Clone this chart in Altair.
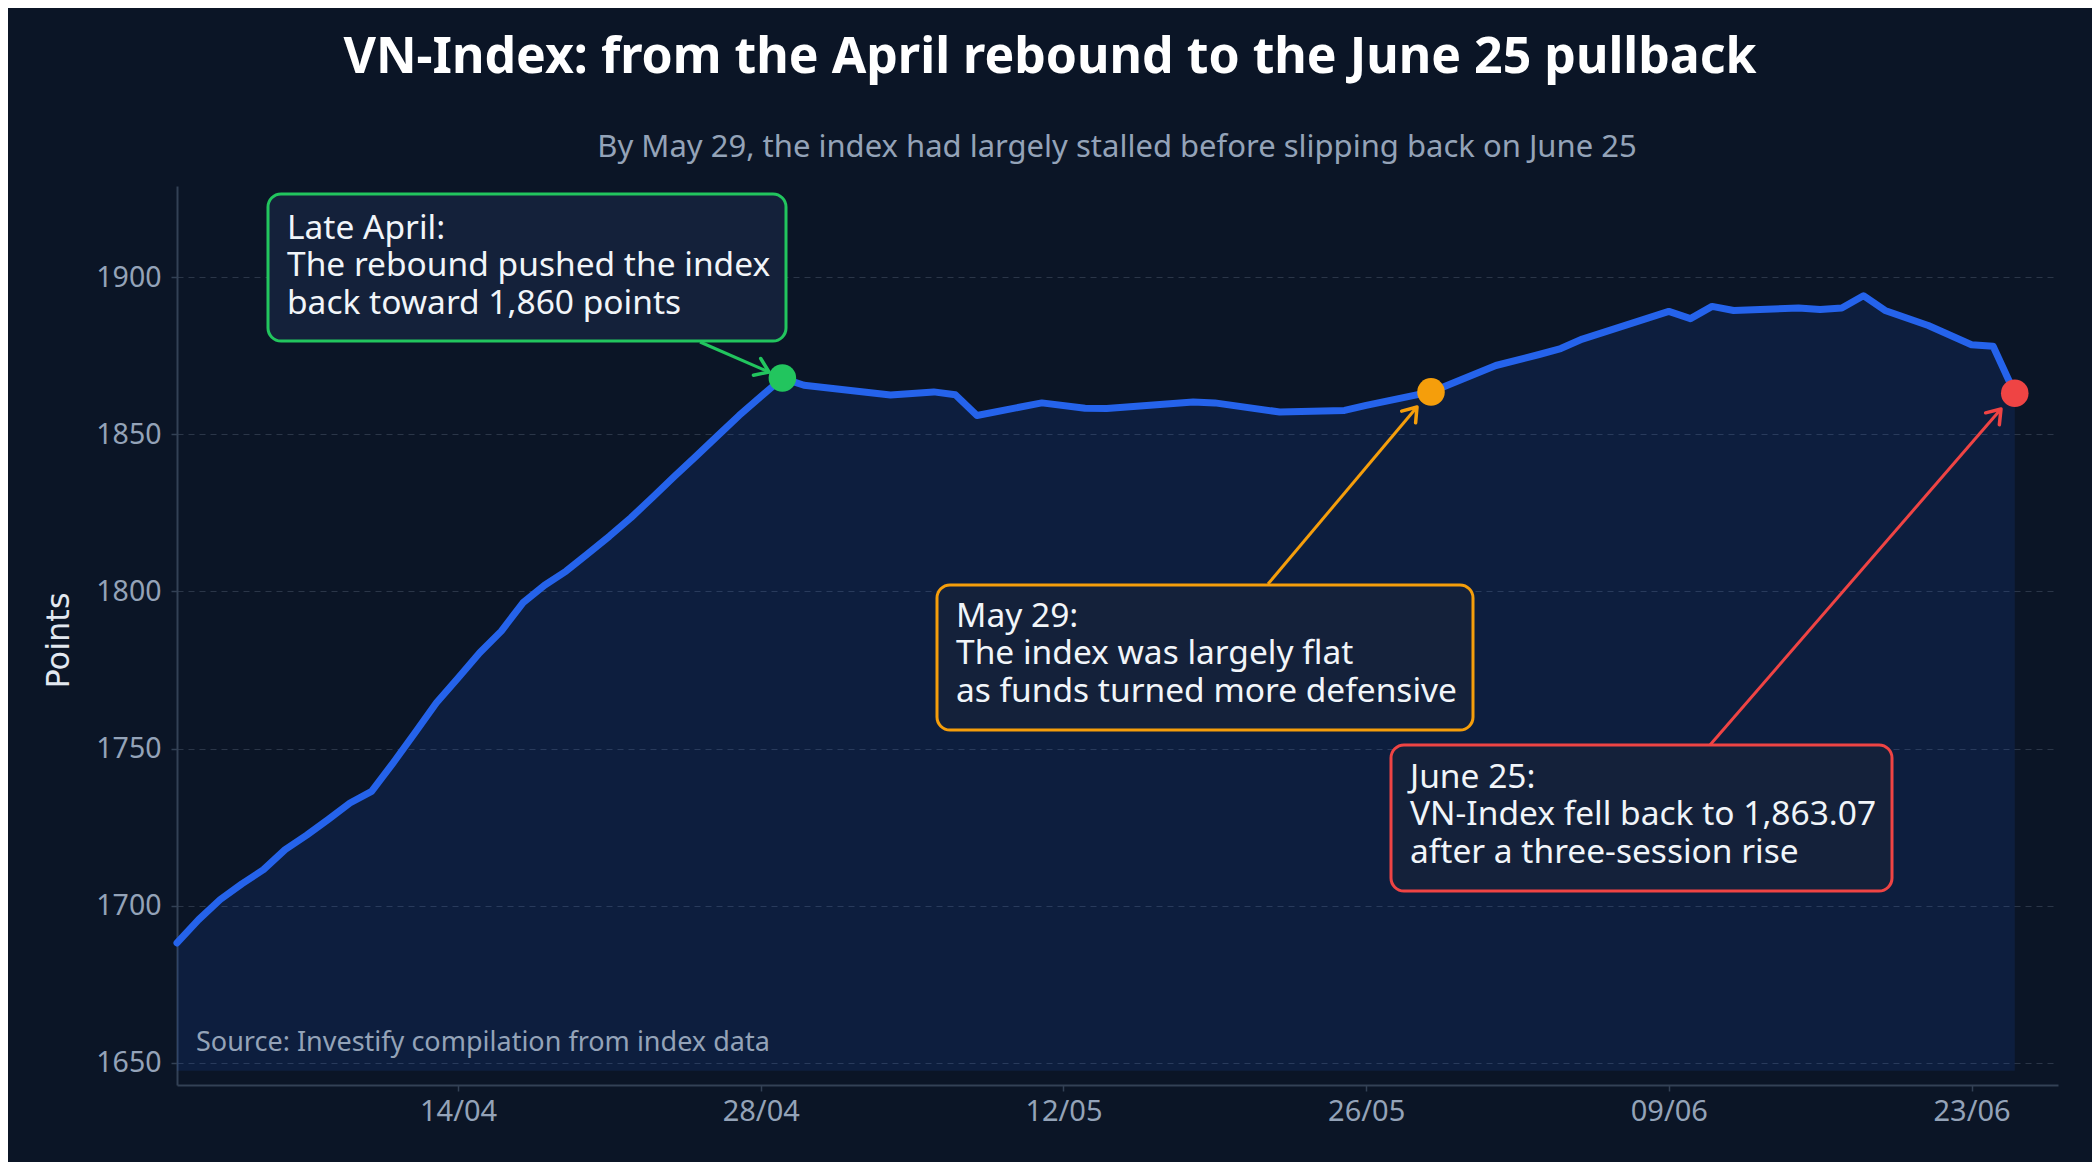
import altair as alt
import pandas as pd

# VN-Index closes
dates = [
    "2025-04-01", "2025-04-02", "2025-04-03", "2025-04-04", "2025-04-05",
    "2025-04-06", "2025-04-07", "2025-04-08", "2025-04-09", "2025-04-10",
    "2025-04-11", "2025-04-12", "2025-04-13", "2025-04-14", "2025-04-15",
    "2025-04-16", "2025-04-17", "2025-04-18", "2025-04-19", "2025-04-20",
    "2025-04-21", "2025-04-22", "2025-04-23", "2025-04-24", "2025-04-25",
    "2025-04-26", "2025-04-27", "2025-04-28", "2025-04-29", "2025-04-30",
    "2025-05-04", "2025-05-06", "2025-05-07", "2025-05-08", "2025-05-11",
    "2025-05-13", "2025-05-14", "2025-05-18", "2025-05-19", "2025-05-22",
    "2025-05-25", "2025-05-26", "2025-05-29", "2025-06-01", "2025-06-03",
    "2025-06-04", "2025-06-05", "2025-06-09", "2025-06-10", "2025-06-11",
    "2025-06-12", "2025-06-15", "2025-06-16", "2025-06-17", "2025-06-18",
    "2025-06-19", "2025-06-21", "2025-06-23", "2025-06-24", "2025-06-25",
]
points = [
    1688.2, 1695.6, 1702.0, 1707.0, 1711.5,
    1717.9, 1722.5, 1727.5, 1732.7, 1736.4,
    1745.5, 1755.0, 1764.6, 1772.5, 1780.5,
    1787.4, 1796.4, 1802.0, 1806.5, 1812.0,
    1817.6, 1823.5, 1830.0, 1836.6, 1843.0,
    1849.5, 1856.0, 1862.0, 1867.9, 1865.6,
    1862.5, 1863.5, 1862.6, 1856.0, 1860.0,
    1858.3, 1858.2, 1860.3, 1860.0, 1857.1,
    1857.6, 1859.2, 1863.5, 1871.9, 1875.4,
    1877.3, 1880.3, 1889.1, 1886.8, 1890.7,
    1889.4, 1890.2, 1889.7, 1890.2, 1894.1,
    1889.4, 1884.6, 1878.5, 1878.0, 1863.07,
]

# highlighted sessions
highlight_dates = ["2025-04-29", "2025-05-29", "2025-06-25"]
highlight_colors = ["#22c55e", "#f59e0b", "#ef4444"]

x_tick_dates = [(4, 14), (4, 28), (5, 12), (5, 26), (6, 9), (6, 23)]
y_ticks = [1650, 1700, 1750, 1800, 1850, 1900]

BG = "#0b1526"
BLUE = "#2563eb"
MUTED = "#94a3b8"
FONT = "Noto Sans"

W, H = 1881, 899

df = pd.DataFrame({"date": pd.to_datetime(dates), "points": points})
hl = df[df["date"].isin(pd.to_datetime(highlight_dates))].copy()
hl["color"] = highlight_colors

one = pd.DataFrame({"k": [0]})

x_scale = alt.Scale(domain=[alt.DateTime(year=2025, month=4, date=1),
                            alt.DateTime(year=2025, month=6, date=27)])
y_scale = alt.Scale(domain=[1643, 1929], nice=False, zero=False)

x_enc = alt.X(
    "date:T", scale=x_scale, title=None,
    axis=alt.Axis(values=[alt.DateTime(year=2025, month=m, date=d) for m, d in x_tick_dates],
                  format="%d/%m", grid=False, labelPadding=6, labelFontSize=29),
)
y_enc = alt.Y(
    "points:Q", scale=y_scale, title="Points",
    axis=alt.Axis(values=y_ticks, format="d", grid=True, labelPadding=10, labelFontSize=28.5,
                  titleFont="DejaVu Sans", titleFontSize=32, titleColor="#e2e8f0",
                  titleFontWeight="normal", titleAngle=270, titleX=-119, titleY=454,
                  titleAlign="center", titleBaseline="middle"),
)

area = alt.Chart(df).mark_area(color=BLUE, opacity=0.12).encode(
    x=x_enc, y=y_enc, y2=alt.datum(1647.5)
)
line = alt.Chart(df).mark_line(
    color=BLUE, strokeWidth=7, strokeJoin="round", strokeCap="round"
).encode(x="date:T", y="points:Q")

dots = alt.Chart(hl).mark_circle(size=760, opacity=1).encode(
    x="date:T", y="points:Q", color=alt.Color("color:N", scale=None)
)


def box(x, x2, y, y2, color):
    return alt.Chart(one).mark_rect(
        fill="#14213a", stroke=color, strokeWidth=3, cornerRadius=13
    ).encode(x=alt.value(x), x2=alt.value(x2), y=alt.value(y), y2=alt.value(y2))


def note(x, y, lines):
    return alt.Chart(one).mark_text(
        text=lines, align="left", baseline="alphabetic", lineHeight=37.4,
        font=FONT, fontSize=33.5, color="#f1f5f9"
    ).encode(x=alt.value(x), y=alt.value(y))


CHEVRON = "M -1 -0.7 L 0 0 L -1 0.7"


def arrow(x, y, x2, y2, angle, color):
    shaft = alt.Chart(one).mark_rule(color=color, strokeWidth=3).encode(
        x=alt.value(x), y=alt.value(y), x2=alt.value(x2), y2=alt.value(y2)
    )
    head = alt.Chart(one).mark_point(
        shape=CHEVRON, size=676, angle=angle, filled=False, stroke=color,
        strokeWidth=3.5, strokeCap="round", strokeJoin="round", opacity=1
    ).encode(x=alt.value(x2), y=alt.value(y2))
    return shaft + head


title = alt.Chart(one).mark_text(
    text="VN-Index: from the April rebound to the June 25 pullback",
    font=FONT, fontSize=50, fontWeight="bold", color="#ffffff",
    align="center", baseline="alphabetic"
).encode(x=alt.value(873), y=alt.value(-113))

subtitle = alt.Chart(one).mark_text(
    text="By May 29, the index had largely stalled before slipping back on June 25",
    font=FONT, fontSize=31, color=MUTED, align="center", baseline="alphabetic"
).encode(x=alt.value(940), y=alt.value(-29))

source = alt.Chart(one).mark_text(
    text="Source: Investify compilation from index data",
    font=FONT, fontSize=27, color=MUTED, align="left", baseline="alphabetic"
).encode(x=alt.value(19), y=alt.value(865))

chart = alt.layer(
    area, line,
    arrow(523, 156, 592, 186, 23.5, "#22c55e"),
    arrow(1091, 398, 1240, 221, 310, "#f59e0b"),
    arrow(1533, 559, 1824, 223, 311, "#ef4444"),
    dots,
    box(91, 609, 8, 155, "#22c55e"),
    note(110, 53, ["Late April:", "The rebound pushed the index", "back toward 1,860 points"]),
    box(760, 1296, 399, 544, "#f59e0b"),
    note(779, 441, ["May 29:", "The index was largely flat", "as funds turned more defensive"]),
    box(1214, 1715, 559, 705, "#ef4444"),
    note(1233, 602, ["June 25:", "VN-Index fell back to 1,863.07", "after a three-session rise"]),
    title, subtitle, source,
).properties(
    width=W, height=H,
    padding={"left": 169, "top": 178, "right": 34, "bottom": 77},
    autosize=alt.AutoSizeParams(type="none"),
    background=BG,
).configure_view(
    stroke=None
).configure_axis(
    domainColor="#334155", domainWidth=2,
    tickColor="#334155", tickSize=6, tickWidth=1.5,
    labelFont=FONT, labelColor=MUTED,
    gridColor="#2b3648", gridDash=[6, 5], gridWidth=1.2,
)

chart.save("out.html", embed_options={"renderer": "svg", "actions": False})
